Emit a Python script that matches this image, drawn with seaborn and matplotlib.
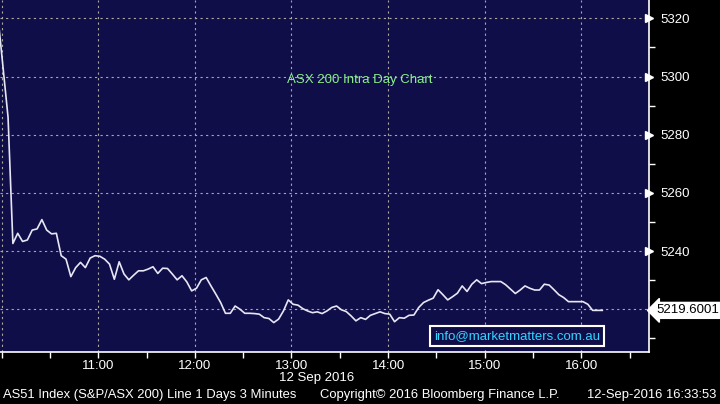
import matplotlib
matplotlib.use('Agg')
import matplotlib.pyplot as plt
import matplotlib.dates as mdates
import matplotlib.ticker as mticker
from matplotlib import font_manager
import pandas as pd
import seaborn as sns

# AS51 index, 3 minute bars, 12 Sep 2016
prices = [5319.0, 5302.5, 5286.0, 5242.6, 5246.1, 5243.3, 5243.8, 5247.2, 5247.6, 5250.8,
          5247.2, 5245.9, 5246.1, 5238.4, 5237.2, 5231.2, 5234.3, 5236.1, 5234.3, 5237.6,
          5238.4, 5238.2, 5237.2, 5235.5, 5230.3, 5236.3, 5232.1, 5230.1, 5231.7, 5233.2,
          5233.2, 5233.8, 5234.6, 5232.3, 5234.1, 5234.0, 5232.1, 5230.1, 5231.5, 5229.4,
          5226.3, 5227.2, 5230.1, 5230.9, 5228.0, 5225.2, 5222.3, 5218.6, 5218.6, 5221.1,
          5220.0, 5218.6, 5218.6, 5218.5, 5218.3, 5217.1, 5216.8, 5215.4, 5216.6, 5219.4,
          5223.2, 5221.7, 5221.4, 5220.2, 5219.4, 5218.8, 5219.1, 5218.5, 5219.4, 5220.6,
          5221.1, 5219.8, 5219.2, 5217.7, 5216.0, 5217.1, 5216.5, 5217.9, 5218.5, 5219.1,
          5218.5, 5218.3, 5215.7, 5217.1, 5216.9, 5217.9, 5218.0, 5220.6, 5222.3, 5223.1,
          5223.8, 5226.7, 5225.0, 5223.2, 5224.3, 5225.5, 5228.0, 5226.1, 5228.6, 5230.1,
          5228.8, 5229.2, 5229.5, 5229.5, 5229.5, 5228.4, 5226.9, 5225.4, 5226.6, 5228.0,
          5227.2, 5226.6, 5226.6, 5228.6, 5228.3, 5226.7, 5225.0, 5224.0, 5222.6, 5222.6,
          5222.6, 5222.6, 5221.7, 5219.6, 5219.6, 5219.6001]
start_time = '2016-09-12 09:58'
y_major = [5220, 5240, 5260, 5280, 5300, 5320]
title = 'ASX 200 Intra Day Chart'
email = 'info@marketmatters.com.au'
footer_left = 'AS51 Index (S&P/ASX 200) Line 1 Days 3 Minutes'
footer_mid = 'Copyright\u00a9 2016 Bloomberg Finance L.P.'
footer_right = '12-Sep-2016 16:33:53'
date_label = '12 Sep 2016'

df = pd.DataFrame({'time': pd.date_range(start_time, periods=len(prices), freq='3min'),
                   'price': prices})

names = {f.name for f in font_manager.fontManager.ttflist}
narrow = 'Liberation Sans Narrow' if 'Liberation Sans Narrow' in names else 'Liberation Sans'
plt.rcParams['font.family'] = ['Liberation Sans', 'DejaVu Sans']

bg = '#100e48'
fig = plt.figure(figsize=(7.2, 4.04), dpi=100, facecolor='black')
ax = fig.add_axes([0.0, 0.1295, 0.9014, 0.8705])
ax.set_facecolor(bg)

sns.lineplot(data=df, x='time', y='price', ax=ax, color='#e6e6f4', linewidth=1.2)

ax.set_xlim(pd.Timestamp('2016-09-12 09:59'), pd.Timestamp('2016-09-12 16:42'))
ax.set_ylim(5205.4, 5326.3)

# x axis: hours with labels, half hours as minor ticks
ax.xaxis.set_major_locator(mdates.HourLocator())
ax.xaxis.set_minor_locator(mdates.MinuteLocator(byminute=30))
ax.xaxis.set_major_formatter(mticker.FuncFormatter(
    lambda v, p: '' if mdates.num2date(v).hour == 10 else mdates.num2date(v).strftime('%H:%M')))
ax.tick_params(axis='x', which='both', colors='white', length=4, width=1, pad=2,
               labelsize=9.5, labelcolor='white')

# y axis on the right
ax.yaxis.tick_right()
ax.set_yticks(y_major)
ax.yaxis.set_minor_locator(mticker.MultipleLocator(10))
ax.set_yticklabels(['' if v == 5220 else str(v) for v in y_major])
ax.tick_params(axis='y', which='major', length=0, pad=8, labelsize=9.5, labelcolor='white')
ax.tick_params(axis='y', which='minor', length=4, width=1, colors='white')
ax.plot([1] * (len(y_major) - 1), y_major[1:], marker='>', ms=5.5, color='white', ls='none',
        transform=ax.get_yaxis_transform(), clip_on=False)

ax.grid(True, which='major', color='#aaa89a', linestyle=(0, (2, 3)), linewidth=0.8)
ax.set_xlabel('')
ax.set_ylabel('')
for s in ['left', 'top']:
    ax.spines[s].set_visible(False)
for s in ['right', 'bottom']:
    ax.spines[s].set_color('white')
    ax.spines[s].set_linewidth(1.2)

# last price tag
last = prices[-1]
ax.annotate(f'{last:.4f}', xy=(1, last), xycoords=('axes fraction', 'data'),
            xytext=(5, 0), textcoords='offset points', va='center', ha='left',
            fontsize=9.5, color='black', annotation_clip=False,
            bbox=dict(boxstyle='larrow,pad=0.15', fc='white', ec='white'))

ax.text(0.555, 0.773, title, transform=ax.transAxes, ha='center', va='center',
        color='#8cf08c', fontsize=9.5)
ax.text(0.7966, 0.044, email, transform=ax.transAxes, ha='center', va='center',
        color='#33d4ff', fontsize=9.5,
        bbox=dict(boxstyle='square,pad=0.3', fc=bg, ec='white', lw=1.5))

fig.text(317 / 720, 1 - 378 / 404, date_label, ha='center', va='center', color='white',
         fontsize=9.5)
fig.text(3 / 720, 1 - 395 / 404, footer_left, ha='left', va='center', color='white',
         fontsize=9.4, family=narrow)
fig.text(320 / 720, 1 - 395 / 404, footer_mid, ha='left', va='center', color='white',
         fontsize=9.4, family=narrow)
fig.text(716 / 720, 1 - 395 / 404, footer_right, ha='right', va='center', color='white',
         fontsize=9.4, family=narrow)

fig.savefig('out.png', dpi=100, facecolor='black')
